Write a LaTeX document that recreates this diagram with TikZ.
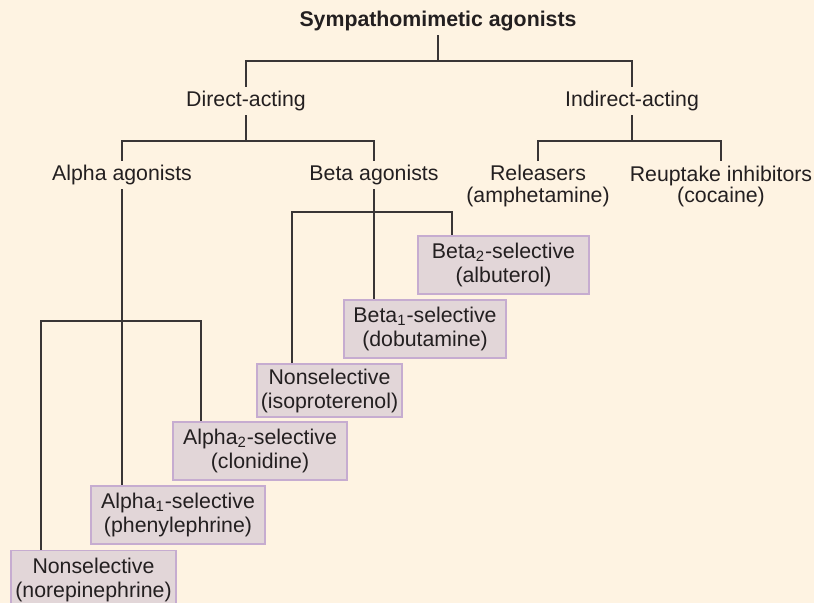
\documentclass[tikz,border=0pt]{standalone}
\usepackage{fontspec}
\setmainfont{Liberation Sans}
\usepackage{xcolor}
\usepackage{tikz}
\usetikzlibrary{positioning, backgrounds}

\definecolor{paper}{RGB}{254,243,226}
\definecolor{boxfill}{RGB}{226,214,216}
\definecolor{boxline}{RGB}{198,172,208}
\definecolor{ink}{RGB}{35,31,32}

\begin{document}
\begin{tikzpicture}[
    x=0.5pt, y=-0.5pt,
    group/.style={inner xsep=2pt, inner ysep=2pt, align=center, text=ink, font=\fontsize{10.65}{10.5}\selectfont},
    head/.style={group, font=\fontsize{10.65}{10.5}\selectfont\bfseries},
    drug/.style={rectangle, draw=boxline, fill=boxfill, line width=0.75pt, align=center, inner sep=0pt, minimum height=29pt, text=ink, font=\fontsize{10.65}{12}\selectfont},
    link/.style={draw=ink!90, line width=0.7pt}
]
    \useasboundingbox (0,0) rectangle (814,603);
    \fill [paper] (0,0) rectangle (814,603);

    \node [head] (title) at (438,21) {Sympathomimetic agonists};
    \node [group] (direct) at (246,101) {Direct-acting};
    \node [group] (indirect) at (632,101) {Indirect-acting};
    \node [group] (alpha) at (122,175) {Alpha agonists};
    \node [group] (beta) at (374,175) {Beta agonists};
    \node [group] (releasers) at (538,186) {Releasers\\(amphetamine)};
    \node [group] (reuptake) at (721,186) {Reuptake inhibitors\\(cocaine)};

    \node [drug, minimum width=82.5pt] (norepi) at (93.5,579.5) {Nonselective\\(norepinephrine)};
    \node [drug, minimum width=87pt] (a1) at (178,515) {Alpha\textsubscript{1}-selective\\(phenylephrine)};
    \node [drug, minimum width=87pt] (a2) at (260,451) {Alpha\textsubscript{2}-selective\\(clonidine)};
    \node [drug, minimum width=72.5pt, minimum height=26.5pt] (iso) at (329.5,390.5) {Nonselective\\(isoproterenol)};
    \node [drug, minimum width=81pt] (b1) at (425,329) {Beta\textsubscript{1}-selective\\(dobutamine)};
    \node [drug, minimum width=85.5pt] (b2) at (503.5,265) {Beta\textsubscript{2}-selective\\(albuterol)};

    \coordinate (alphaL) at (41,321);
    \coordinate (alphaR) at (201,321);
    \coordinate (betaL) at (292,212);
    \coordinate (betaR) at (452,212);

    \draw [link] (title.south) -- (title.south |- 0,61);
    \draw [link] (direct.north) -- (direct.north |- 0,61) -| (indirect.north);
    \draw [link] (direct.south) -- (direct.south |- 0,141);
    \draw [link] (alpha.north) -- (alpha.north |- 0,141) -| (beta.north);
    \draw [link] (indirect.south) -- (indirect.south |- 0,141);
    \draw [link] (releasers.north) -- (releasers.north |- 0,141) -| (reuptake.north);

    \draw [link] (alpha.south) -- (alpha.south |- a1.north);
    \draw [link] (norepi.north -| alphaL) -- (alphaL) -- (alphaR) -- (a2.north -| alphaR);
    \draw [link] (beta.south) -- (beta.south |- b1.north);
    \draw [link] (iso.north -| betaL) -- (betaL) -- (betaR) -- (b2.north -| betaR);
\end{tikzpicture}
\end{document}
